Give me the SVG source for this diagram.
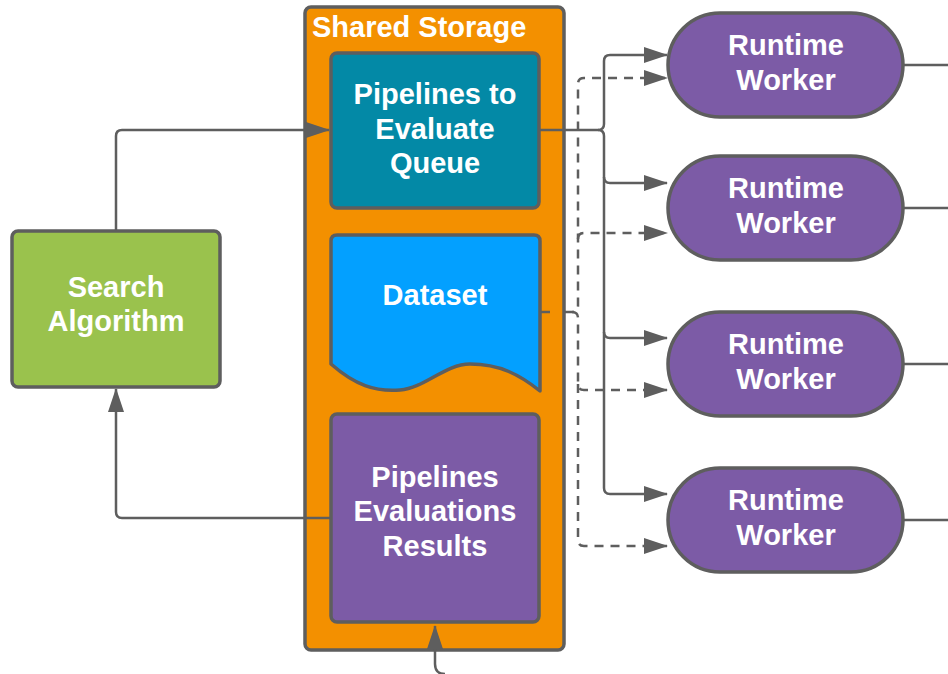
<svg xmlns="http://www.w3.org/2000/svg" width="948" height="674" viewBox="0 0 948 674">
  <style>
    .box { stroke: #5e5e5e; stroke-width: 3.5; stroke-linejoin: round; }
    .lbl { font-family: "Liberation Sans", Arial, sans-serif; font-weight: bold; font-size: 29px; fill: #ffffff; text-anchor: middle; }
    .wire { fill: none; stroke: #5e5e5e; stroke-width: 2.5; stroke-linejoin: round; }
    .dash { stroke-dasharray: 9 7; }
  </style>
  <defs>
    <marker id="arrow" viewBox="0 0 24 16" refX="23" refY="8" markerWidth="24" markerHeight="16" markerUnits="userSpaceOnUse" orient="auto">
      <path d="M0,0 L24,8 L0,16 Z" fill="#5e5e5e"/>
    </marker>
  </defs>

  <rect width="948" height="674" fill="#ffffff"/>

  <!-- container -->
  <g id="shared-storage">
    <rect class="box" x="305" y="7" width="259" height="643" rx="6" fill="#f39000"/>
    <text class="lbl" x="312" y="37" style="text-anchor:start">Shared Storage</text>
  </g>

  <!-- connectors -->
  <g id="connectors">
    <!-- search -> queue -->
    <path class="wire" d="M116,231 L116,136 Q116,130 122,130 L329,130" marker-end="url(#arrow)"/>
    <!-- results -> search -->
    <path class="wire" d="M331,518 L122,518 Q116,518 116,512 L116,389" marker-end="url(#arrow)"/>
    <!-- incoming at bottom -->
    <path class="wire" d="M445,674 Q435,674 435,664 L435,626" marker-end="url(#arrow)"/>
    <!-- queue -> workers -->
    <path class="wire" d="M540,130 L598,130 Q604,130 604,124 L604,61 Q604,55 610,55 L667,55" marker-end="url(#arrow)"/>
    <path class="wire" d="M598,130 Q604,130 604,136 L604,177 Q604,183 610,183 L667,183" marker-end="url(#arrow)"/>
    <path class="wire" d="M604,177 L604,332 Q604,338 610,338 L667,338" marker-end="url(#arrow)"/>
    <path class="wire" d="M604,332 L604,488 Q604,494 610,494 L667,494" marker-end="url(#arrow)"/>
    <!-- dataset -> workers (dashed) -->
    <path class="wire" d="M540,312 L550,312"/>
    <path class="wire dash" d="M565,312 L572,312 Q578,312 578,306 L578,84 Q578,78 584,78 L667,78" marker-end="url(#arrow)"/>
    <path class="wire dash" d="M578,239 Q578,233 584,233 L667,233" marker-end="url(#arrow)"/>
    <path class="wire dash" d="M572,312 Q578,312 578,318 L578,384 Q578,390 584,390 L667,390" marker-end="url(#arrow)"/>
    <path class="wire dash" d="M578,384 L578,540 Q578,546 584,546 L667,546" marker-end="url(#arrow)"/>
    <!-- worker outputs -->
    <path class="wire" d="M903,65 L948,65"/>
    <path class="wire" d="M903,208 L948,208"/>
    <path class="wire" d="M903,364 L948,364"/>
    <path class="wire" d="M903,520 L948,520"/>
  </g>

  <g id="search-algorithm">
    <rect class="box" x="12" y="231" width="208" height="156" rx="6" fill="#9ac24d"/>
    <text class="lbl" x="116" y="297">Search</text>
    <text class="lbl" x="116" y="331">Algorithm</text>
  </g>

  <g id="queue">
    <rect class="box" x="331" y="53" width="208" height="155" rx="6" fill="#0389a6"/>
    <text class="lbl" x="435" y="104">Pipelines to</text>
    <text class="lbl" x="435" y="139">Evaluate</text>
    <text class="lbl" x="435" y="173">Queue</text>
  </g>

  <g id="dataset">
    <path class="box" fill="#03a0ff" d="M331,241 Q331,235 337,235 L534,235 Q540,235 540,241 L540,391 C520,375 500,364 470,364 C445,364 425,388 400,390 C375,392 355,385 331,364 Z"/>
    <text class="lbl" x="435" y="305">Dataset</text>
  </g>

  <g id="results">
    <rect class="box" x="331" y="414" width="208" height="208" rx="6" fill="#7c5ba6"/>
    <text class="lbl" x="435" y="487">Pipelines</text>
    <text class="lbl" x="435" y="521">Evaluations</text>
    <text class="lbl" x="435" y="556">Results</text>
  </g>

  <g id="worker-1">
    <rect class="box" x="668" y="13" width="235" height="104" rx="52" fill="#7c5ba6"/>
    <text class="lbl" x="786" y="55">Runtime</text>
    <text class="lbl" x="786" y="90">Worker</text>
  </g>
  <g id="worker-2">
    <rect class="box" x="668" y="156" width="235" height="104" rx="52" fill="#7c5ba6"/>
    <text class="lbl" x="786" y="198">Runtime</text>
    <text class="lbl" x="786" y="233">Worker</text>
  </g>
  <g id="worker-3">
    <rect class="box" x="668" y="312" width="235" height="104" rx="52" fill="#7c5ba6"/>
    <text class="lbl" x="786" y="354">Runtime</text>
    <text class="lbl" x="786" y="389">Worker</text>
  </g>
  <g id="worker-4">
    <rect class="box" x="668" y="468" width="235" height="104" rx="52" fill="#7c5ba6"/>
    <text class="lbl" x="786" y="510">Runtime</text>
    <text class="lbl" x="786" y="545">Worker</text>
  </g>
</svg>
